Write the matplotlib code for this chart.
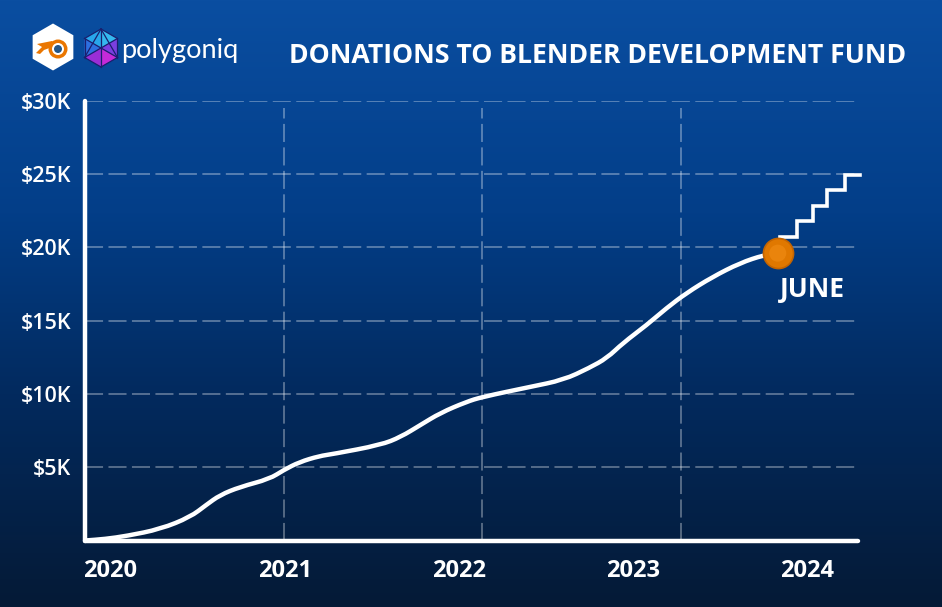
import numpy as np
import matplotlib
matplotlib.use("Agg")
import matplotlib.pyplot as plt
from matplotlib.patches import RegularPolygon, Circle, Polygon, PathPatch
from matplotlib.path import Path
from matplotlib.colors import LinearSegmentedColormap

# ---------------- data ----------------
curve_years = [2020.0, 2020.1, 2020.21, 2020.38, 2020.53, 2020.61, 2020.68, 2020.78,
               2020.93, 2021.0, 2021.08, 2021.18, 2021.25, 2021.49, 2021.59, 2021.69,
               2021.79, 2021.92, 2022.0, 2022.24, 2022.41, 2022.54, 2022.63, 2022.71,
               2022.83, 2022.93, 2023.03, 2023.16, 2023.30, 2023.42, 2023.49]
curve_k = [0, 0.1, 0.31, 0.78, 1.6, 2.42, 3.1, 3.65,
           4.2, 4.8, 5.35, 5.76, 5.9, 6.52, 7.06, 7.88,
           8.7, 9.45, 9.79, 10.47, 10.95, 11.77, 12.45, 13.47,
           14.7, 15.86, 16.88, 17.97, 18.93, 19.47, 19.6]
june_year = 2023.49
june_k = 19.6
step_years = [2023.50, 2023.587, 2023.667, 2023.738, 2023.829, 2023.904]
step_k = [20.7, 21.8, 22.8, 23.9, 24.9, 24.9]
ytick_vals = [5, 10, 15, 20, 25, 30]
ytick_labels = ["$5K", "$10K", "$15K", "$20K", "$25K", "$30K"]
year_grid = [2021, 2022, 2023]
year_labels = ["2020", "2021", "2022", "2023", "2024"]
year_label_pos = [2020.128, 2021.008, 2021.884, 2022.761, 2023.637]
title = "DONATIONS TO BLENDER DEVELOPMENT FUND"

FONT = ["Open Sans", "DejaVu Sans"]
plt.rcParams["font.family"] = FONT

W, H = 942, 607
fig = plt.figure(figsize=(W / 100, H / 100), dpi=100)

# ---------------- background ----------------
bg = fig.add_axes([0, 0, 1, 1])
bg.set_xlim(0, W)
bg.set_ylim(H, 0)
bg.axis("off")
cmap = LinearSegmentedColormap.from_list(
    "bg", [(0.0, "#0a4ea1"), (0.35, "#033e88"), (0.65, "#022a5e"), (1.0, "#051a36")])
grad = np.linspace(0, 1, 256).reshape(-1, 1)
bg.imshow(grad, cmap=cmap, aspect="auto", extent=[0, W, H, 0], zorder=0)

# Blender logo
bg.add_patch(RegularPolygon((53, 47), numVertices=6, radius=23.5, orientation=0,
                            facecolor="white", edgecolor="none", zorder=2))
bg.add_patch(Polygon([[37, 44], [52, 41], [55, 46], [44, 50], [40, 54], [36, 53], [42, 47]],
                     closed=True, facecolor="#ea7600", edgecolor="none", zorder=3))
bg.add_patch(Circle((58, 49), 9.5, facecolor="#ea7600", edgecolor="none", zorder=3))
bg.add_patch(Circle((58, 49), 6.0, facecolor="white", edgecolor="none", zorder=4))
bg.add_patch(Circle((58, 49), 4.0, facecolor="#265787", edgecolor="none", zorder=5))

# polygoniq logo
cx, cy, r = 101, 48, 19
verts = [(cx + r * np.sin(np.radians(a)), cy - r * np.cos(np.radians(a))) for a in range(0, 360, 60)]
tri_cols = ["#35b8ee", "#7a3fe0", "#c42ad8", "#9a2ed6", "#2d6fe0", "#28a6ea"]
for i in range(6):
    bg.add_patch(Polygon([[cx, cy], verts[i], verts[(i + 1) % 6]], closed=True,
                         facecolor=tri_cols[i], edgecolor="none", zorder=3))
for i in range(6):
    bg.plot([verts[i][0], verts[(i + 1) % 6][0]], [verts[i][1], verts[(i + 1) % 6][1]],
            color="#1a1f6e", lw=0.9, zorder=4)
for (a, b) in [(0, 3), (0, 2), (0, 4), (5, 2), (1, 4)]:
    bg.plot([verts[a][0], verts[b][0]], [verts[a][1], verts[b][1]],
            color="#1a1f6e", lw=0.9, zorder=4)
bg.text(121, 58, "polygoniq", color="white", fontsize=19.5, family=["Lato", "DejaVu Sans"],
        ha="left", va="baseline", zorder=5)

# Title
bg.text(597.5, 56, title, color="white", fontsize=19.2, fontweight="bold",
        ha="center", va="center", zorder=5)

# ---------------- main axes ----------------
left_px, right_px, top_px, bot_px = 85, 858, 100.7, 540.5
ax = fig.add_axes([left_px / W, 1 - bot_px / H, (right_px - left_px) / W, (bot_px - top_px) / H])
ax.set_facecolor("none")
ax.set_xlim(2020, 2020 + (right_px - left_px) / 198.5)
ax.set_ylim(0, 30)

for s in ["top", "right"]:
    ax.spines[s].set_visible(False)
for s in ["left", "bottom"]:
    ax.spines[s].set_color("white")
    ax.spines[s].set_linewidth(3.2)
    ax.spines[s].set_capstyle("round")
    ax.spines[s].set_zorder(6)

grid_col = (1, 1, 1, 0.35)
for v in ytick_vals:
    ax.axhline(v, color=grid_col, lw=1.3, dashes=(10, 3), zorder=1)
for yv in year_grid:
    ax.axvline(yv, ymin=0, ymax=(bot_px - 108) / (bot_px - top_px), color=grid_col,
               lw=1.3, dashes=(10, 3), zorder=1)

ax.set_yticks(ytick_vals, ytick_labels)
ax.set_xticks(year_label_pos, year_labels)
ax.tick_params(axis="y", length=0, pad=10, labelcolor="white", labelsize=15.5)
ax.tick_params(axis="x", length=0, pad=13, labelcolor="white", labelsize=17)
for lab in ax.get_yticklabels():
    lab.set_fontweight("semibold")
for lab in ax.get_xticklabels():
    lab.set_fontweight("bold")

# smooth rendering of the read points (quadratic B-spline through midpoints)
pts = np.column_stack([curve_years, curve_k])
codes = [Path.MOVETO, Path.LINETO]
vertices = [pts[0], (pts[0] + pts[1]) / 2]
for i in range(1, len(pts) - 1):
    vertices += [pts[i], (pts[i] + pts[i + 1]) / 2]
    codes += [Path.CURVE3, Path.CURVE3]
vertices.append(pts[-1])
codes.append(Path.LINETO)
ax.add_patch(PathPatch(Path(vertices, codes), facecolor="none", edgecolor="white",
                       lw=3.2, capstyle="round", joinstyle="round", zorder=4))

ax.plot(step_years, step_k, color="white", lw=2.6, drawstyle="steps-post",
        solid_joinstyle="miter", zorder=4, clip_on=False)
ax.scatter([june_year], [june_k], s=470, color="#e07800", edgecolor="#c46400",
           linewidth=1.2, zorder=7, clip_on=False)
ax.scatter([june_year], [june_k], s=150, color="#ef8a12", edgecolor="none",
           zorder=8, clip_on=False, alpha=0.7)
ax.annotate("JUNE", (june_year, june_k), xytext=(35, -36), textcoords="offset pixels",
            ha="center", va="center", color="white", fontsize=19, fontweight="bold",
            zorder=8)

fig.savefig("out.png", dpi=100)
